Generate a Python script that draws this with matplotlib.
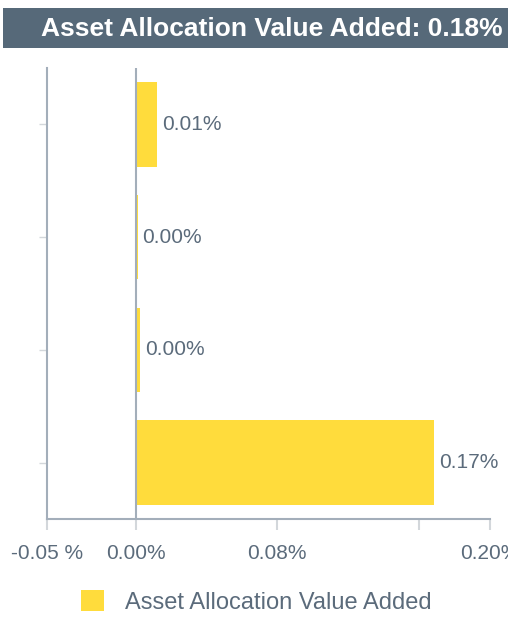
import matplotlib
matplotlib.use("Agg")
import matplotlib.pyplot as plt
from matplotlib.patches import Rectangle

categories = ["Category 1", "Category 2", "Category 3", "Category 4"]
values = [0.0122, 0.0012, 0.0026, 0.1685]
value_labels = ["0.01%", "0.00%", "0.00%", "0.17%"]
xticks = [-0.05, 0.0, 0.08, 0.16, 0.20]
xtick_labels = ["-0.05 %", "0.00%", "0.08%", "", "0.20%"]
title = "Asset Allocation Value Added: 0.18%"
legend_label = "Asset Allocation Value Added"

W, H = 508, 624
BAR = "#FFDC3C"
TXT = "#5B6B7B"
AX = "#A3AEBA"
TICK = "#D3D7DB"
HEAD = "#566979"

plt.rcParams['font.family'] = ['Liberation Sans', 'DejaVu Sans']
fig = plt.figure(figsize=(W / 100, H / 100), dpi=100)

# header bar
fig.patches.append(Rectangle((3 / W, 1 - 48 / H), 1, 40 / H, transform=fig.transFigure,
                             facecolor=HEAD, edgecolor="none"))
fig.text(503 / W, 1 - 29 / H, title, ha="right", va="center", color="white",
         fontsize=19, fontweight="bold")

ax = fig.add_axes([47 / W, (H - 519) / H, (490 - 47) / W, (519 - 68) / H])
ypos = list(range(len(categories)))
ax.barh(ypos, values, height=0.75, color=BAR, zorder=2)
ax.set_ylim(len(categories) - 0.5, -0.5)
ax.set_xlim(-0.05, 0.20)
ax.axvline(0, color=AX, lw=1.5, zorder=3)
for y, v, lab in zip(ypos, values, value_labels):
    ax.annotate(lab, (v, y), xytext=(3.5, 0), textcoords="offset points",
                ha="left", va="center", fontsize=15, color=TXT)

ax.set_xticks(xticks)
ax.set_xticklabels(xtick_labels, fontsize=15, color=TXT)
ax.set_yticks(ypos)
ax.set_yticklabels([""] * len(categories))
ax.tick_params(axis="x", length=8, width=1.5, color=TICK, pad=10)
ax.tick_params(axis="y", length=6, width=1, color=TICK)
for s in ["top", "right"]:
    ax.spines[s].set_visible(False)
for s in ["left", "bottom"]:
    ax.spines[s].set_color(AX)
    ax.spines[s].set_linewidth(1.5)

handle = Rectangle((0, 0), 1, 1, facecolor=BAR, edgecolor="none")
fig.legend([handle], [legend_label], loc="center", bbox_to_anchor=(256 / W, 1 - 602 / H),
           frameon=False, fontsize=17, labelcolor=TXT, handlelength=1.0,
           handleheight=1.0, handletextpad=0.85)

fig.savefig("out.png", dpi=100)
